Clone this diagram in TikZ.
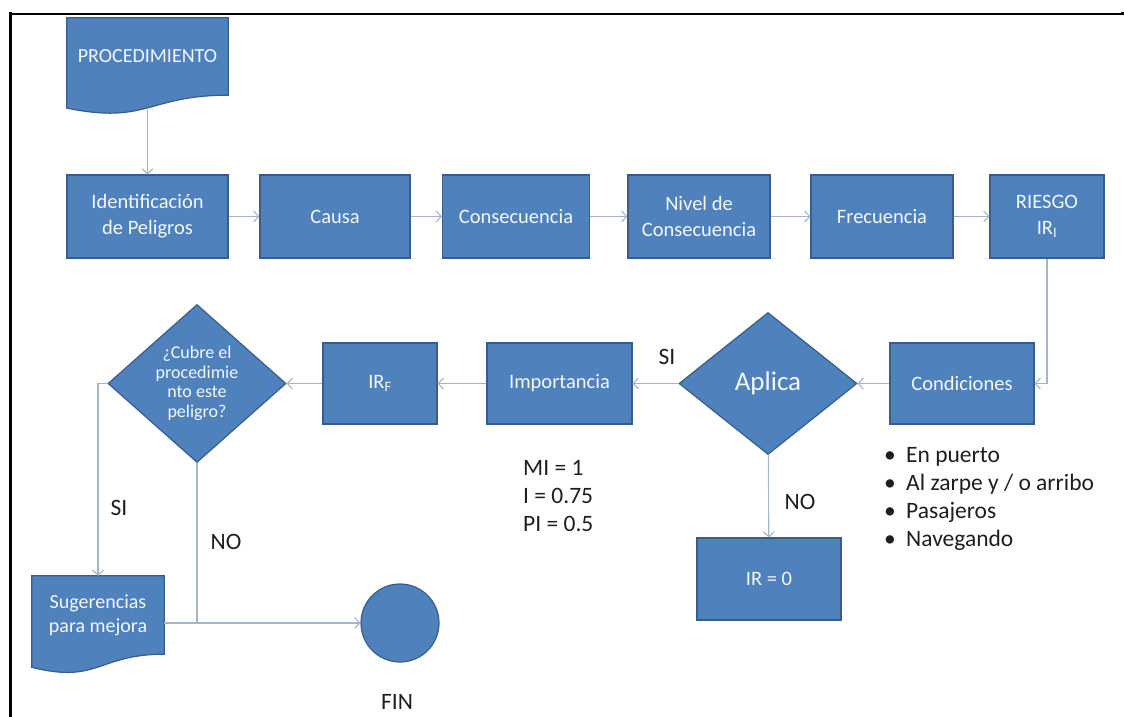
\documentclass[tikz,border=0pt]{standalone}
\usepackage{fontspec}
\setmainfont{Carlito}
\usetikzlibrary{arrows.meta,shapes.geometric,calc,backgrounds}
\definecolor{boxfill}{HTML}{4F81BD}
\definecolor{boxline}{HTML}{385D8A}
\definecolor{conncol}{HTML}{A3B5CB}
\definecolor{ink}{HTML}{1E1E1E}
\definecolor{boxtext}{HTML}{F4F7FB}

\begin{document}
\begin{tikzpicture}[x=1pt,y=-1pt,
  box/.style={rectangle, fill=boxfill, draw=boxline, line width=1.2pt, text=boxtext,
              font=\fontsize{20.5}{26}\selectfont, align=center, inner sep=0pt},
  decision/.style={diamond, fill=boxfill, draw=boxline, line width=1.2pt, text=boxtext,
              inner sep=0pt, align=center},
  doctext/.style={rectangle, text=boxtext, font=\fontsize{20}{24}\selectfont,
              align=center, inner sep=0pt},
  docshape/.style={fill=boxfill, draw=boxline, line width=1.2pt},
  terminal/.style={circle, fill=boxfill, draw=boxline, line width=1.2pt, inner sep=0pt},
  conn/.style={draw=conncol, line width=1.1pt},
  arr/.style={conn, -{Straight Barb[length=5pt,width=11pt]}},
  lbl/.style={text=ink, font=\fontsize{23.5}{28}\selectfont, inner sep=0pt},
  note/.style={text=ink, font=\fontsize{23.5}{28}\selectfont, inner sep=0pt, align=left, anchor=north west},
]
\useasboundingbox (0,0) rectangle (1124,717);

% page frame (top and left edges)
\draw[line width=2pt] (10,14) -- (1121,14);
\fill (1120.5,12.5) rectangle (1124,15.5);
\draw[line width=3pt] (10,12.5) -- (10,717);

% ---------- start document ----------
\node[doctext, minimum width=161pt, minimum height=77pt] (proc) at (147.5,56.5) {PROCEDIMIENTO};

% ---------- top row ----------
\node[box, minimum width=161pt, minimum height=83pt] (ident)  at (147.5,216.5) {Identificación\\de Peligros};
\node[box, minimum width=150pt, minimum height=83pt] (causa)  at (335,216.5) {Causa};
\node[box, minimum width=147pt, minimum height=83pt] (conse)  at (516,216.5) {Consecuencia};
\node[box, minimum width=142pt, minimum height=83pt] (nivel)  at (699,216.5) {Nivel de\\Consecuencia};
\node[box, minimum width=142pt, minimum height=83pt] (frec)   at (882,216.5) {Frecuencia};
\node[box, minimum width=114pt, minimum height=83pt] (riesgo) at (1047,216.5) {RIESGO\\IR\textsubscript{I}};

% ---------- middle row ----------
\node[box, minimum width=144pt, minimum height=81pt] (cond) at (962,383.5) {Condiciones};
\node[decision, minimum width=178pt, minimum height=142pt, font=\fontsize{27}{30}\selectfont] (aplica) at (768,383.5) {Aplica};
\node[box, minimum width=145pt, minimum height=81pt] (imp) at (559.5,383.5) {Importancia};
\node[box, minimum width=114pt, minimum height=81pt] (irf) at (380,383.5) {IR\textsubscript{F}};
\node[decision, minimum width=178pt, minimum height=158pt, font=\fontsize{18}{19.5}\selectfont] (cubre) at (197,383.5) {¿Cubre el\\procedimie\\nto este\\peligro?};

\node[box, minimum width=144pt, minimum height=82pt] (irzero) at (769,579) {IR = 0};

% ---------- bottom ----------
\node[doctext, minimum width=132pt, minimum height=78pt] (sug) at (98,615) {Sugerencias\\para mejora};
\node[terminal, minimum size=78pt] (fin) at (400,623) {};

% wave-bottomed document shapes, behind their text
\begin{scope}[on background layer]
  \draw[docshape] (proc.north west) -- (proc.north east) -- (proc.south east)
    .. controls (proc.south) and ($(proc.south)+(0,29.5)$) .. ($(proc.south west)+(0,12.9)$) -- cycle;
  \draw[docshape] (sug.north west) -- (sug.north east) -- (sug.south east)
    .. controls (sug.south) and ($(sug.south)+(0,29.9)$) .. ($(sug.south west)+(0,13.1)$) -- cycle;
\end{scope}

% ---------- texts ----------
\node[lbl] (siA) at (667,357) {SI};
\node[lbl] (noA) at (800,502) {NO};
\node[lbl] (siB) at (119,508) {SI};
\node[lbl] (noB) at (226,542) {NO};
\node[lbl] (finlbl) at (397,702) {FIN};

\node[note] (vals) at (523,460.5) {MI = 1\\I = 0.75\\PI = 0.5};
\node[note] (conds) at (884,447) {%
  \makebox[22pt][l]{\textbullet}En puerto\\
  \makebox[22pt][l]{\textbullet}Al zarpe y / o arribo\\
  \makebox[22pt][l]{\textbullet}Pasajeros\\
  \makebox[22pt][l]{\textbullet}Navegando};

% ---------- connectors ----------
\draw[arr] ($(proc.south)+(0,12.7)$) -- (ident);
\draw[arr] (ident) -- (causa);
\draw[arr] (causa) -- (conse);
\draw[arr] (conse) -- (nivel);
\draw[arr] (nivel) -- (frec);
\draw[arr] (frec) -- (riesgo);
\draw[arr] (riesgo.south) |- (cond.east);
\draw[arr] (cond) -- (aplica);
\draw[arr] (aplica) -- (imp);
\draw[arr] (aplica) -- (irzero);
\draw[arr] (imp) -- (irf);
\draw[arr] (irf) -- (cubre);
\draw[arr] (cubre.west) -| (sug.north);
\draw[conn] (cubre.south) -- (cubre.south |- fin.west);
\draw[arr] (sug.east |- fin.west) -- (fin);

\end{tikzpicture}
\end{document}
